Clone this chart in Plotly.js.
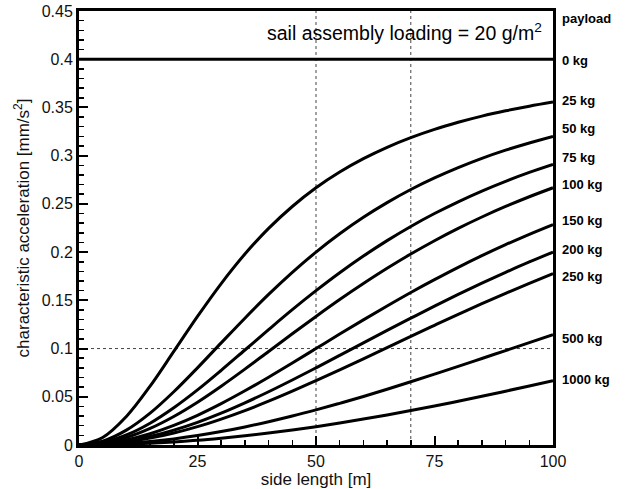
<!DOCTYPE html>
<html>
<head>
<meta charset="utf-8">
<script src="https://cdn.plot.ly/plotly-3.0.1.min.js"></script>
<style>
  html, body { margin: 0; padding: 0; background: #fff; }
  #chart { width: 625px; height: 489px; }
</style>
</head>
<body>
<div id="chart"></div>
<script>
// side length [m]
const sideLength = [0, 5, 10, 15, 20, 25, 30, 35, 40, 45, 50, 55, 60, 65, 70, 75, 80, 85, 90, 95, 100];

// payload labels
const payloadLabels = ["0 kg", "25 kg", "50 kg", "75 kg", "100 kg", "150 kg", "200 kg", "250 kg", "500 kg", "1000 kg"];

// characteristic acceleration [mm/s^2]
const acc0 = [0.4, 0.4, 0.4, 0.4, 0.4, 0.4, 0.4, 0.4, 0.4, 0.4, 0.4, 0.4, 0.4, 0.4, 0.4, 0.4, 0.4, 0.4, 0.4, 0.4, 0.4];
const acc25 = [0, 0.0078, 0.0296, 0.0610, 0.0970, 0.1333, 0.1674, 0.1980, 0.2246, 0.2473, 0.2667, 0.2830, 0.2969, 0.3087, 0.3187, 0.3273, 0.3346, 0.3410, 0.3465, 0.3513, 0.3556];
const acc50 = [0, 0.0040, 0.0154, 0.0330, 0.0552, 0.0800, 0.1059, 0.1315, 0.1561, 0.1790, 0.2000, 0.2190, 0.2361, 0.2513, 0.2649, 0.2769, 0.2876, 0.2972, 0.3057, 0.3132, 0.3200];
const acc75 = [0, 0.0026, 0.0104, 0.0226, 0.0386, 0.0571, 0.0774, 0.0985, 0.1196, 0.1403, 0.1600, 0.1786, 0.1959, 0.2119, 0.2266, 0.2400, 0.2522, 0.2633, 0.2734, 0.2826, 0.2909];
const acc100 = [0, 0.0020, 0.0078, 0.0172, 0.0296, 0.0444, 0.0610, 0.0787, 0.0970, 0.1153, 0.1333, 0.1508, 0.1674, 0.1832, 0.1980, 0.2118, 0.2246, 0.2364, 0.2473, 0.2574, 0.2667];
const acc150 = [0, 0.0013, 0.0053, 0.0117, 0.0203, 0.0308, 0.0429, 0.0562, 0.0703, 0.0850, 0.1000, 0.1150, 0.1297, 0.1441, 0.1581, 0.1714, 0.1842, 0.1963, 0.2077, 0.2185, 0.2286];
const acc200 = [0, 0.0010, 0.0040, 0.0088, 0.0154, 0.0235, 0.0330, 0.0437, 0.0552, 0.0674, 0.0800, 0.0929, 0.1059, 0.1188, 0.1315, 0.1440, 0.1561, 0.1678, 0.1790, 0.1898, 0.2000];
const acc250 = [0, 0.0008, 0.0032, 0.0071, 0.0124, 0.0190, 0.0269, 0.0357, 0.0454, 0.0558, 0.0667, 0.0779, 0.0894, 0.1010, 0.1126, 0.1241, 0.1354, 0.1465, 0.1573, 0.1677, 0.1778];
const acc500 = [0, 0.0004, 0.0016, 0.0036, 0.0063, 0.0098, 0.0139, 0.0187, 0.0241, 0.0300, 0.0364, 0.0432, 0.0503, 0.0578, 0.0656, 0.0735, 0.0815, 0.0897, 0.0979, 0.1061, 0.1143];
const acc1000 = [0, 0.0002, 0.0008, 0.0018, 0.0032, 0.0049, 0.0071, 0.0096, 0.0124, 0.0156, 0.0190, 0.0228, 0.0269, 0.0312, 0.0357, 0.0404, 0.0454, 0.0505, 0.0558, 0.0612, 0.0667];

const series = [acc0, acc25, acc50, acc75, acc100, acc150, acc200, acc250, acc500, acc1000];

// right-hand label heights (layout positions)
const labelPos = [0.399, 0.3567, 0.3280, 0.2986, 0.2696, 0.2323, 0.2032, 0.1742, 0.1109, 0.0684];

const traces = series.map((ys, i) => ({
  x: sideLength,
  y: ys,
  type: 'scatter',
  mode: 'lines',
  name: payloadLabels[i],
  line: { color: '#000', width: 3, shape: 'spline', smoothing: 1 },
  showlegend: false,
  hoverinfo: 'skip'
}));

const font = "Liberation Sans, Arial, Helvetica, sans-serif";

const annotations = payloadLabels.map((t, i) => ({
  xref: 'paper', yref: 'y',
  x: 1.014, y: labelPos[i],
  text: '<b>' + t + '</b>',
  showarrow: false,
  xanchor: 'left', yanchor: 'middle',
  font: { family: font, size: 13, color: '#000' }
}));
annotations.push({
  xref: 'paper', yref: 'y', x: 1.014, y: 0.4427,
  text: '<b>payload</b>', showarrow: false,
  xanchor: 'left', yanchor: 'middle',
  font: { family: font, size: 13, color: '#000' }
});
annotations.push({
  xref: 'paper', yref: 'y', x: 0.98, y: 0.4282,
  text: 'sail assembly loading = 20 g/m<sup>2</sup>', showarrow: false,
  xanchor: 'right', yanchor: 'middle',
  font: { family: font, size: 19.5, color: '#000' }
});

const dotted = { color: '#444', width: 1, dash: 'dot' };
const shapes = [
  { type: 'line', xref: 'x', yref: 'y', x0: 50, x1: 50, y0: 0, y1: 0.45, line: dotted, layer: 'below' },
  { type: 'line', xref: 'x', yref: 'y', x0: 70, x1: 70, y0: 0, y1: 0.45, line: dotted, layer: 'below' },
  { type: 'line', xref: 'x', yref: 'y', x0: 0, x1: 100, y0: 0.1, y1: 0.1, line: dotted, layer: 'below' }
];

const layout = {
  width: 625, height: 489,
  margin: { l: 79, r: 72, t: 11, b: 44 },
  paper_bgcolor: '#fff', plot_bgcolor: '#fff',
  font: { family: font, color: '#000' },
  xaxis: {
    range: [0, 100], tick0: 0, dtick: 25,
    showgrid: false, zeroline: false,
    showline: true, linecolor: '#000', linewidth: 3, mirror: true,
    ticks: 'inside', ticklen: 9, tickwidth: 2, tickcolor: '#000',
    minor: { dtick: 5, ticks: 'inside', ticklen: 5, tickwidth: 1.5, tickcolor: '#000', showgrid: false },
    tickfont: { family: font, size: 16, color: '#111' },
    title: { text: 'side length [m]', font: { family: font, size: 17, color: '#111' }, standoff: 0 }
  },
  yaxis: {
    range: [0, 0.45], tick0: 0, dtick: 0.05,
    showgrid: false, zeroline: false,
    showline: true, linecolor: '#000', linewidth: 3, mirror: true,
    ticks: 'inside', ticklen: 9, tickwidth: 2, tickcolor: '#000',
    minor: { dtick: 0.01, ticks: 'inside', ticklen: 5, tickwidth: 1.5, tickcolor: '#000', showgrid: false },
    tickfont: { family: font, size: 16, color: '#111' },
    title: { text: 'characteristic acceleration [mm/s<sup>2</sup>]', font: { family: font, size: 17, color: '#111' }, standoff: 8 }
  },
  annotations: annotations,
  shapes: shapes,
  showlegend: false
};

Plotly.newPlot('chart', traces, layout, { staticPlot: true, displayModeBar: false });
</script>
</body>
</html>
